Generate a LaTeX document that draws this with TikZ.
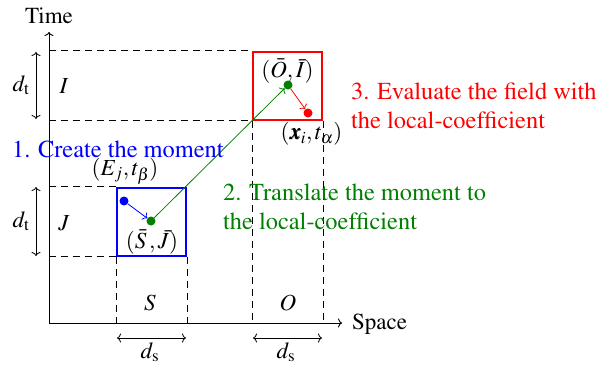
\documentclass[tikz,border=0pt]{standalone}
\usepackage[T1]{fontenc}
\usepackage{amsmath}
\usepackage{mathptmx}
\usepackage{bm}
\usetikzlibrary{arrows.meta}
\definecolor{dgreen}{RGB}{0,128,0}
\tikzset{
  axis/.style={line width=0.9pt},
  dashline/.style={line width=0.8pt, dash pattern=on 7pt off 5pt},
  dimline/.style={line width=0.8pt, {To[length=4pt,width=9pt]}-{To[length=4pt,width=9pt]}},
  dot/.style={circle, minimum size=9pt, inner sep=0pt, draw=none},
  boxnode/.style={rectangle, line width=2pt, minimum width=69pt, minimum height=68pt, inner sep=0pt},
  arr/.style={line width=0.8pt, -{To[length=4pt,width=9pt]}},
  steptext/.style={font=\fontsize{24.4}{29.5}\selectfont, align=left},
}
\begin{document}
\begin{tikzpicture}[x=1pt,y=-1pt, font=\fontsize{23}{29}\selectfont, every node/.style={inner sep=0pt}]
\useasboundingbox (0,0) rectangle (600,365);
% axes
\coordinate (O) at (49,323);
\coordinate (ytop) at (49,32);
\coordinate (xend) at (342,323);
\draw[axis, -{To[length=4pt,width=9pt]}] (O) -- (ytop);
\draw[axis, -{To[length=4pt,width=9pt]}] (O) -- (xend);
\node (time) at (49,15.5) {Time};
\node[anchor=west] (space) at (352,324) {Space};
% boxes
\node[boxnode, draw=red] (rbox) at (287.5,85.5) {};
\node[boxnode, draw=blue] (bbox) at (151.5,221.5) {};
% dashed guide lines
\draw[dashline] (O |- rbox.north west) -- (rbox.north west);
\draw[dashline] (O |- rbox.south west) -- (rbox.south west);
\draw[dashline] (O |- bbox.north west) -- (bbox.north west);
\draw[dashline] (O |- bbox.south west) -- (bbox.south west);
\draw[dashline] (rbox.south west) -- (rbox.south west |- O);
\draw[dashline] (rbox.south east) -- (rbox.south east |- O);
\draw[dashline] (bbox.south west) -- (bbox.south west |- O);
\draw[dashline] (bbox.south east) -- (bbox.south east |- O);
% dimension arrows
\coordinate (dt1a) at (36,52);
\coordinate (dt1b) at (36,119);
\coordinate (dt2a) at (36,187);
\coordinate (dt2b) at (36,256);
\coordinate (ds1a) at (117,338);
\coordinate (ds1b) at (186,338);
\coordinate (ds2a) at (253,338);
\coordinate (ds2b) at (322,338);
\draw[dimline] (dt1a) -- (dt1b);
\draw[dimline] (dt2a) -- (dt2b);
\draw[dimline] (ds1a) -- (ds1b);
\draw[dimline] (ds2a) -- (ds2b);
\node (dtl1) at (21,85) {$d_{\mathrm{t}}$};
\node (dtl2) at (21,221) {$d_{\mathrm{t}}$};
\node (dsl1) at (150,352) {$d_{\mathrm{s}}$};
\node (dsl2) at (286,352) {$d_{\mathrm{s}}$};
% interval labels
\node (I) at (64,86) {$I$};
\node (J) at (64,223) {$J$};
\node (S) at (150,303) {$S$};
\node (Ol) at (288,303) {$O$};
% dots
\node[dot, fill=blue] (e) at (124,201) {};
\node[dot, fill=dgreen] (sj) at (151,221) {};
\node[dot, fill=dgreen] (oi) at (288,85) {};
\node[dot, fill=red] (xa) at (308,113) {};
\draw[arr, blue] (e) -- (sj);
\draw[arr, dgreen] (sj) -- (oi);
\draw[arr, red] (oi) -- (xa);
% point labels
\node (ejl) at (125,171) {$(E_j,t_\beta)$};
\node (sjl) at (152,242) {$(\bar{S}\,,\bar{J})$};
\node (oil) at (287.5,71) {$(\bar{O},\bar{I})$};
\node (xal) at (311.5,134) {$(\bm{x}_i,t_\alpha)$};
% step texts
\node[steptext, blue, anchor=base west] (t1) at (12,157) {1. Create the moment};
\node[steptext, dgreen, anchor=west] (t2) at (223,207) {2. Translate the moment to\\the local-coefficient};
\node[steptext, red, anchor=west] (t3) at (351,106) {3. Evaluate the field with\\the local-coefficient};
\end{tikzpicture}
\end{document}
